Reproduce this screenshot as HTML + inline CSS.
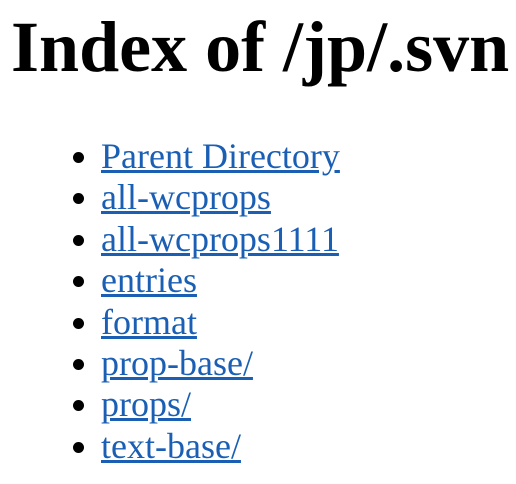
<!DOCTYPE html>
<html><head><style>
html,body{margin:0;padding:0;background:#fff;width:516px;height:484px;overflow:hidden}
body{font-family:"Liberation Serif",serif;color:#000}
h1{position:absolute;left:11px;top:6px;margin:0;font-size:72px;font-weight:bold;line-height:83px;white-space:nowrap}
ul{position:absolute;left:11px;top:136px;margin:0;padding-left:90px;font-size:36px;line-height:41.4px}
li{list-style:disc}
a{color:#1a5fb4;text-decoration:underline}
</style></head><body>
<h1>Index of /jp/.svn</h1>
<ul>
<li><a>Parent Directory</a></li>
<li><a>all-wcprops</a></li>
<li><a>all-wcprops1111</a></li>
<li><a>entries</a></li>
<li><a>format</a></li>
<li><a>prop-base/</a></li>
<li><a>props/</a></li>
<li><a>text-base/</a></li>
</ul>
</body></html>
